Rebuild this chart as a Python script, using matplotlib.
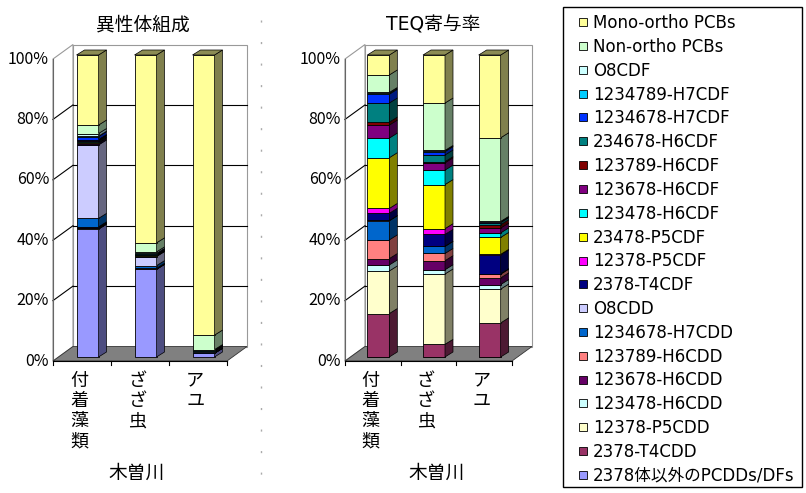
import numpy as np
import matplotlib
matplotlib.use("Agg")
import matplotlib.pyplot as plt
from matplotlib.patches import Polygon, Rectangle
from matplotlib.lines import Line2D
from matplotlib.colors import to_rgb

plt.rcParams['font.family'] = ['DejaVu Sans', 'Noto Sans CJK JP']

FIG_W, FIG_H = 806, 493
PPY = 3.02      # pixels per percent
Y0 = 361        # pixel row of 0% on the front plane

# ============================================================
# 1. DATA  (legend order: top of stack -> bottom of stack)
# ============================================================

categories = ["付\n着\n藻\n類", "ざ\nざ\n虫", "ア\nユ"]
river = "木曽川"
titles = ["異性体組成", "TEQ寄与率"]
yticks = [0, 20, 40, 60, 80, 100]

labels = ["Mono-ortho PCBs", "Non-ortho PCBs", "O8CDF", "1234789-H7CDF",
          "1234678-H7CDF", "234678-H6CDF", "123789-H6CDF", "123678-H6CDF",
          "123478-H6CDF", "23478-P5CDF", "12378-P5CDF", "2378-T4CDF",
          "O8CDD", "1234678-H7CDD", "123789-H6CDD", "123678-H6CDD",
          "123478-H6CDD", "12378-P5CDD", "2378-T4CDD", "2378体以外のPCDDs/DFs"]

colors = ["#FFFF99", "#CCFFCC", "#CCFFFF", "#00CCFF",
          "#0033FF", "#008080", "#800000", "#800080",
          "#00FFFF", "#FFFF00", "#FF00FF", "#000080",
          "#CCCCFF", "#0066CC", "#FF8080", "#660066",
          "#CCFFFF", "#FFFFCC", "#993366", "#9999FF"]

# 異性体組成
iso_fuchaku = [23.2, 2.8, 0.9, 0.1, 1.0, 0.2, 0.1, 0.3, 0.3, 0.2, 0.3, 0.4,
               24.3, 2.8, 0.1, 0.3, 0.1, 0.2, 0.1, 42.3]
iso_zazamushi = [62.2, 3.0, 0.5, 0.05, 0.3, 0.05, 0.05, 0.1, 0.1, 0.1, 0.1, 0.2,
                 3.0, 0.9, 0.05, 0.1, 0.05, 0.1, 0.05, 29.0]
iso_ayu = [92.75, 4.8, 0.1, 0.02, 0.05, 0.03, 0.02, 0.05, 0.05, 0.05, 0.03, 0.1,
           0.3, 0.2, 0.05, 0.05, 0.05, 0.05, 0.05, 1.2]

# TEQ寄与率
teq_fuchaku = [6.6, 5.8, 0.3, 0.3, 2.9, 6.3, 1.0, 4.3, 6.5, 16.8, 1.6, 2.4,
               0.1, 6.3, 6.2, 2.1, 2.0, 14.1, 14.4, 0.0]
teq_zazamushi = [15.9, 15.7, 0.2, 0.2, 1.1, 2.2, 0.4, 2.4, 4.8, 14.6, 1.9, 3.9,
                 0.1, 2.3, 2.4, 3.0, 1.4, 23.3, 4.2, 0.0]
teq_ayu = [27.4, 27.7, 0.1, 0.1, 0.2, 0.7, 1.1, 1.6, 1.5, 5.6, 0.2, 6.2,
           0.0, 0.2, 1.2, 2.2, 1.5, 11.2, 11.3, 0.0]

# ============================================================
# 2. HELPERS
# ============================================================

fig = plt.figure(figsize=(FIG_W / 100, FIG_H / 100), dpi=100)


def shade(c, f):
    r, g, b = to_rgb(c)
    return (r * f, g * f, b * f)


def draw_chart(x0px, front_w, bars, title, title_x, river_x):
    ppx = front_w / 3.0
    DX, DY = 20 / ppx, 14.5 / PPY      # wall depth
    BX, BY = 5.5 / ppx, 4 / PPY        # bar front offset
    SX, SY = 8 / ppx, 5 / PPY          # bar depth
    W = 22 / ppx
    xmin, xmax, ymin, ymax = -0.3, 3.5, -4, 108

    ax = fig.add_axes([(x0px + xmin * ppx) / FIG_W,
                       (FIG_H - (Y0 - ymin * PPY)) / FIG_H,
                       (xmax - xmin) * ppx / FIG_W,
                       (ymax - ymin) * PPY / FIG_H])
    ax.set_xlim(xmin, xmax)
    ax.set_ylim(ymin, ymax)
    ax.axis("off")

    # walls
    ax.add_patch(Polygon([(DX, DY), (3 + DX, DY), (3 + DX, 100 + DY), (DX, 100 + DY)],
                         fc="white", ec="#999999", lw=0.8, zorder=1))
    ax.add_patch(Polygon([(0, 0), (DX, DY), (DX, 100 + DY), (0, 100)],
                         fc="white", ec="#999999", lw=0.8, zorder=1))
    for v in yticks[1:-1]:
        ax.plot([DX, 3 + DX], [v + DY, v + DY], color="black", lw=0.8, zorder=2)
        ax.plot([0, DX], [v, v + DY], color="black", lw=0.8, zorder=2)
    ax.plot([0, 0], [0, 100], color="#666666", lw=0.8, zorder=2)

    # floor
    ax.add_patch(Polygon([(0, 0), (3, 0), (3 + DX, DY), (DX, DY)],
                         fc="#808080", ec="#333333", lw=0.6, zorder=2))
    ax.plot([0, 3], [0, 0], color="black", lw=0.8, zorder=3)
    for i in range(4):
        ax.plot([i, i], [0, -1.4], color="black", lw=0.8, zorder=3)

    # stacked 3D bars
    stack = np.array(bars)[:, ::-1]
    cols = colors[::-1]
    xs = np.arange(3) + 0.5 + BX - W / 2
    cum = np.zeros(3)
    for k in range(stack.shape[1]):
        vals = stack[:, k]
        ax.bar(xs, vals, W, bottom=BY + cum, align="edge", color=cols[k],
               edgecolor="black", lw=0.6, zorder=4)
        for i in range(3):
            if vals[i] <= 0:
                continue
            b, t = BY + cum[i], BY + cum[i] + vals[i]
            xr = xs[i] + W
            ax.add_patch(Polygon([(xr, b), (xr + SX, b + SY), (xr + SX, t + SY), (xr, t)],
                                 fc=shade(cols[k], 0.5), ec="black", lw=0.5, zorder=4))
        cum += vals
    for i in range(3):
        top = BY + cum[i]
        ax.add_patch(Polygon([(xs[i], top), (xs[i] + SX, top + SY),
                              (xs[i] + W + SX, top + SY), (xs[i] + W, top)],
                             fc=shade(cols[-1], 0.55), ec="black", lw=0.5, zorder=4))

    # texts
    for v in yticks:
        ax.text(-4 / ppx, v, f"{v}%", ha="right", va="center", fontsize=11.5,
                family=["Noto Sans CJK JP"])
    for i, c in enumerate(categories):
        ax.text(i + 0.45, -3.5, c, ha="center", va="top", fontsize=13, linespacing=1.17,
                family=["Noto Sans CJK JP"])
    fig.text(title_x / FIG_W, 1 - 25 / FIG_H, title, ha="center", va="center", fontsize=13.5)
    fig.text(river_x / FIG_W, 1 - 473 / FIG_H, river, ha="center", va="center", fontsize=13.5,
             family=["Noto Sans CJK JP"])
    return ax


# ============================================================
# 3. CHARTS
# ============================================================

draw_chart(53, 174, [iso_fuchaku, iso_zazamushi, iso_ayu], titles[0], 143, 137)
draw_chart(345, 167, [teq_fuchaku, teq_zazamushi, teq_ayu], titles[1], 433, 437)

# dotted separator
fig.add_artist(Line2D([261 / FIG_W] * 2, [1 - 20 / FIG_H, 1 - 480 / FIG_H],
                      transform=fig.transFigure, color="#aaaaaa", lw=1, dashes=(1.5, 14)))

# ============================================================
# 4. LEGEND
# ============================================================

fig.add_artist(Rectangle((563 / FIG_W, (FIG_H - 487) / FIG_H), 239 / FIG_W, 480 / FIG_H,
                         transform=fig.transFigure, fc="white", ec="black", lw=1.0,
                         zorder=0))

handles = [Line2D([], [], ls="none", marker="s", markersize=6, markerfacecolor=c,
                  markeredgecolor="black", markeredgewidth=0.6) for c in colors]
leg = fig.legend(handles, labels, loc="upper left",
                 bbox_to_anchor=(571 / FIG_W, 1 - 14 / FIG_H), borderaxespad=0,
                 fontsize=12, frameon=False, labelspacing=0.35, handlelength=1.4,
                 handletextpad=-0.1, borderpad=0)

plt.savefig("out.png", dpi=100)
